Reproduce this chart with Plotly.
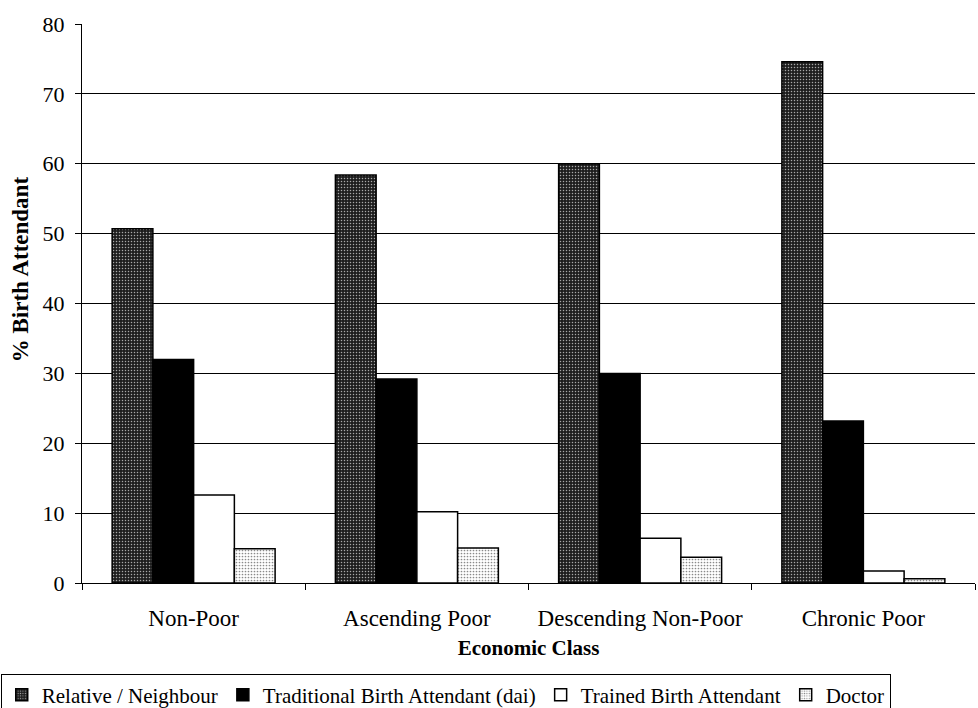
import plotly.graph_objects as go

# Economic classes (x categories)
classes = ["Non-Poor", "Ascending Poor", "Descending Non-Poor", "Chronic Poor"]

# % of births by attendant type, per economic class
relative_neighbour = [50.7, 58.4, 60.0, 74.6]
traditional_dai = [32.0, 29.2, 30.0, 23.2]
trained_attendant = [12.6, 10.2, 6.4, 1.7]
doctor = [4.9, 5.0, 3.7, 0.6]

y_ticks = [0, 10, 20, 30, 40, 50, 60, 70, 80]

FONT = "Liberation Serif"
outline = dict(color="black", width=1.5)

fig = go.Figure()
fig.add_trace(go.Bar(
    x=classes, y=relative_neighbour, name="Relative / Neighbour",
    marker=dict(color="#1e1e1e", line=outline,
                pattern=dict(shape=".", bgcolor="#1e1e1e", fgcolor="#a8a8a8",
                             size=3, solidity=0.2, fillmode="replace")),
))
fig.add_trace(go.Bar(
    x=classes, y=traditional_dai, name="Traditional Birth Attendant (dai)",
    marker=dict(color="black", line=outline),
))
fig.add_trace(go.Bar(
    x=classes, y=trained_attendant, name="Trained Birth Attendant",
    marker=dict(color="white", line=outline),
))
fig.add_trace(go.Bar(
    x=classes, y=doctor, name="Doctor",
    marker=dict(color="white", line=outline,
                pattern=dict(shape=".", bgcolor="white", fgcolor="#8a8a8a",
                             size=3, solidity=0.25, fillmode="replace")),
))

fig.update_layout(
    width=978, height=708,
    margin=dict(l=82, r=3, t=24, b=125, autoexpand=False),
    paper_bgcolor="white", plot_bgcolor="white",
    barmode="group", bargap=0.27, bargroupgap=0,
    font=dict(family=FONT, size=21, color="black"),
    showlegend=True,
    legend=dict(
        orientation="h", x=-0.091, xanchor="left", y=-0.162, yanchor="top",
        bordercolor="black", borderwidth=1, bgcolor="white",
        font=dict(family=FONT, size=21, color="black"),
        tracegroupgap=0, itemwidth=30,
    ),
    xaxis=dict(
        type="category", tickson="boundaries", ticks="outside", ticklen=6,
        tickcolor="black", showline=True, linecolor="black", linewidth=1,
        showgrid=False, tickfont=dict(family=FONT, size=23),
        ticklabelstandoff=14,
        title=dict(text="<b>Economic Class</b>", standoff=10,
                   font=dict(family=FONT, size=21)),
    ),
    yaxis=dict(
        range=[0, 80], tickvals=y_ticks, ticks="outside", ticklen=6,
        tickcolor="black", showline=True, linecolor="black", linewidth=1,
        showgrid=True, gridcolor="black", gridwidth=1, zeroline=False,
        tickfont=dict(family=FONT, size=22), ticklabelstandoff=6,
    ),
    annotations=[dict(
        text="<b>% Birth Attendant</b>", textangle=-90,
        xref="paper", yref="paper", x=-0.069, y=0.562,
        xanchor="center", yanchor="middle", showarrow=False,
        font=dict(family=FONT, size=23),
    )],
)

fig.write_html("out.html")
